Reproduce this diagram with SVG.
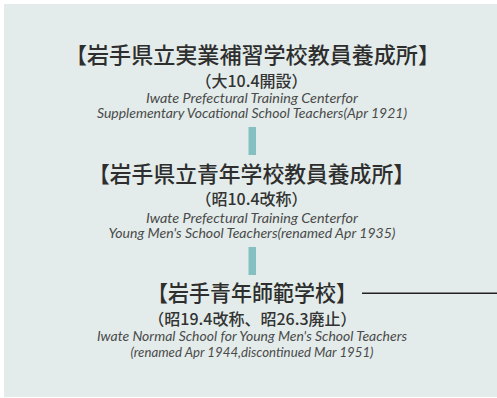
<svg xmlns="http://www.w3.org/2000/svg" width="497" height="398" viewBox="0 0 497 398">
<style>
.bg{fill:#e3ecea}
.bar{fill:#84c0c2}
.t{font-family:"Noto Sans CJK JP","Noto Sans",sans-serif;font-size:22px;font-weight:500;fill:#2e2e2e;text-anchor:middle}
.s{font-family:"Noto Sans CJK JP","Noto Sans",sans-serif;font-size:16px;font-weight:500;fill:#333;text-anchor:middle}
.e{font-family:Lato,"Open Sans",sans-serif;font-size:13px;font-style:italic;fill:#4a4a4a;text-anchor:middle}
.ln{stroke:#222;stroke-width:1.4;fill:none}
</style>
<rect class="bg" x="4" y="4" width="493" height="393"/>
<g id="connectors">
<rect class="bar" x="248.5" y="127" width="7.5" height="28"/>
<rect class="bar" x="248.5" y="247" width="7.5" height="28"/>
<line class="ln" x1="362" y1="293.3" x2="497" y2="293.3"/>
</g>
<g id="node1">
<text class="t" x="252.5" y="63" textLength="375" lengthAdjust="spacingAndGlyphs">【岩手県立実業補習学校教員養成所】</text>
<text class="s" x="251.5" y="87">（大10.4開設）</text>
<text class="e" x="252" y="103" textLength="212" lengthAdjust="spacingAndGlyphs">Iwate Prefectural Training Centerfor</text>
<text class="e" x="252" y="118" textLength="310" lengthAdjust="spacingAndGlyphs">Supplementary Vocational School Teachers(Apr 1921)</text>
</g>
<g id="node2">
<text class="t" x="251.5" y="182" textLength="327" lengthAdjust="spacingAndGlyphs">【岩手県立青年学校教員養成所】</text>
<text class="s" x="251.5" y="205">（昭10.4改称）</text>
<text class="e" x="252" y="223" textLength="212" lengthAdjust="spacingAndGlyphs">Iwate Prefectural Training Centerfor</text>
<text class="e" x="252" y="238" textLength="287" lengthAdjust="spacingAndGlyphs">Young Men's School Teachers(renamed Apr 1935)</text>
</g>
<g id="node3">
<text class="t" x="252" y="301" textLength="210" lengthAdjust="spacingAndGlyphs">【岩手青年師範学校】</text>
<text class="s" x="252.5" y="325">（昭19.4改称、昭26.3廃止）</text>
<text class="e" x="252" y="341" textLength="310" lengthAdjust="spacingAndGlyphs">Iwate Normal School for Young Men's School Teachers</text>
<text class="e" x="252" y="356.5" textLength="243" lengthAdjust="spacingAndGlyphs">(renamed Apr 1944,discontinued Mar 1951)</text>
</g>
</svg>
